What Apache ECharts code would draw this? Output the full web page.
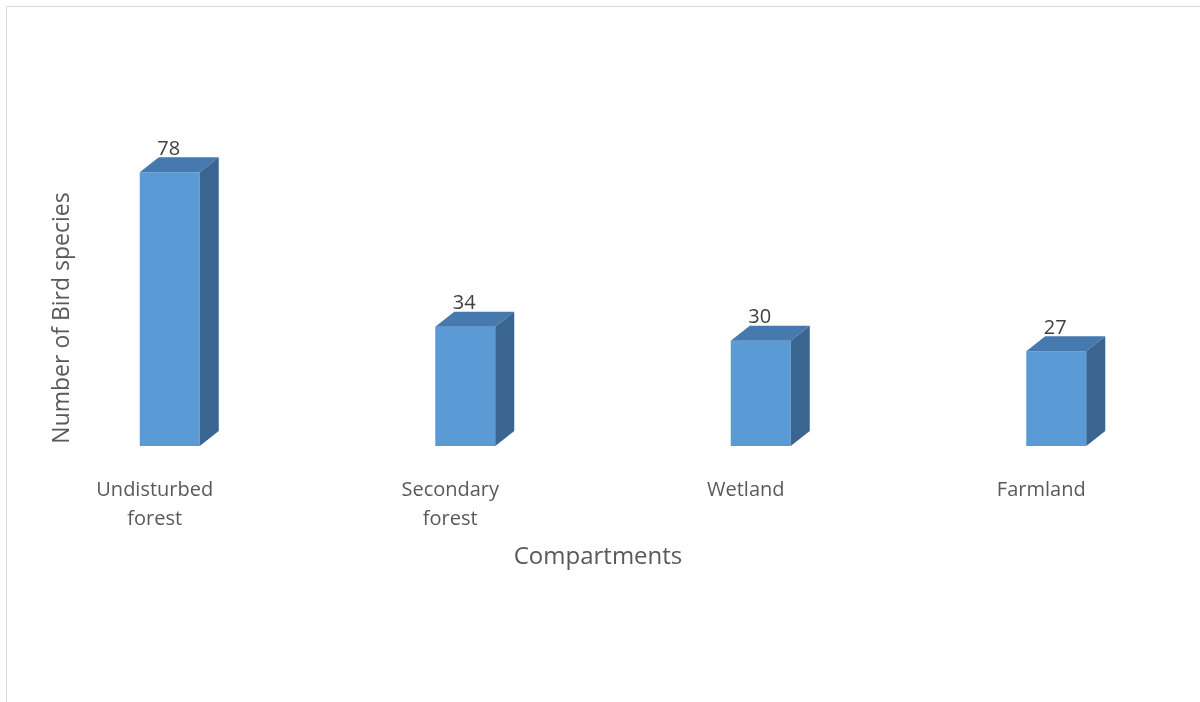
<!DOCTYPE html>
<html>
<head>
<meta charset="utf-8">
<script src="https://cdn.jsdelivr.net/npm/echarts@6/dist/echarts.min.js"></script>
<style>
html,body{margin:0;padding:0;background:#fff;}
#chart{width:1200px;height:702px;}
</style>
</head>
<body>
<div id="chart"></div>
<script>
const categories = ['Undisturbed\nforest', 'Secondary\nforest', 'Wetland', 'Farmland'];
const values = [78, 34, 30, 27];
const xTitle = 'Compartments';
const yTitle = 'Number of Bird species';

const FONT = '"Open Sans", "Liberation Sans", sans-serif';
const FRONT = '#5B9BD5';
const TOP = '#4679AE';
const SIDE = '#3A6590';

const chart = echarts.init(document.getElementById('chart'));

function renderBar(params, api) {
  const idx = api.value(0);
  const val = api.value(1);
  const t = api.coord([idx, val]);
  const b = api.coord([idx, 0]);
  const c = t[0];
  const x0 = c - 15, x1 = c + 45;
  const dx = 19, dy = -15;
  const yT = t[1], yB = b[1];
  return {
    type: 'group',
    children: [
      { type: 'rect', shape: { x: x0, y: yT, width: x1 - x0, height: yB - yT }, style: { fill: FRONT } },
      { type: 'polygon', shape: { points: [[x0, yT], [x0 + dx, yT + dy], [x1 + dx, yT + dy], [x1, yT]] }, style: { fill: TOP } },
      { type: 'polygon', shape: { points: [[x1, yT], [x1 + dx, yT + dy], [x1 + dx, yB + dy], [x1, yB]] }, style: { fill: SIDE } },
      { type: 'text', x: (x0 + x1) / 2 - 1, y: yT - 23, style: { text: String(val), align: 'center', verticalAlign: 'middle', fill: '#404040', font: '20px ' + FONT } }
    ]
  };
}

chart.setOption({
  animation: false,
  backgroundColor: '#fff',
  grid: { left: 7, right: 11, top: 95, bottom: 256 },
  xAxis: {
    type: 'category',
    data: categories,
    axisLine: { show: false },
    axisTick: { show: false },
    axisLabel: { color: '#595959', fontSize: 20, fontFamily: FONT, lineHeight: 29, margin: 30, interval: 0 },
    name: xTitle,
    nameLocation: 'middle',
    nameGap: 99,
    nameTextStyle: { color: '#595959', fontSize: 24, fontFamily: FONT }
  },
  yAxis: {
    type: 'value',
    min: 0,
    max: 100,
    show: false
  },
  series: [{
    type: 'custom',
    renderItem: renderBar,
    data: values.map((v, i) => [i, v]),
    encode: { x: 0, y: 1 }
  }],
  graphic: [
    { type: 'line', shape: { x1: 6.5, y1: 6.5, x2: 1200, y2: 6.5 }, style: { stroke: '#d9d9d9', lineWidth: 1 } },
    { type: 'line', shape: { x1: 6.5, y1: 6.5, x2: 6.5, y2: 702 }, style: { stroke: '#d9d9d9', lineWidth: 1 } },
    { type: 'text', x: 62, y: 318, rotation: Math.PI / 2, style: { text: yTitle, align: 'center', verticalAlign: 'middle', fill: '#595959', font: '23px ' + FONT } }
  ]
});
</script>
</body>
</html>
